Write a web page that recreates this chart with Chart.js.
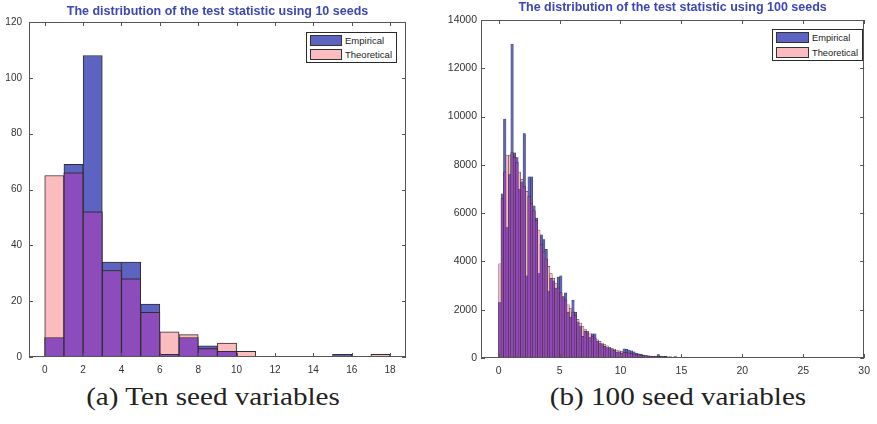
<!DOCTYPE html>
<html lang="en">
<head>
<meta charset="UTF-8">
<title>Test statistic distribution</title>
<script src="https://cdn.jsdelivr.net/npm/chart.js"></script>
<style>
    body { margin: 0; background: #fff; width: 877px; height: 424px; position: relative; overflow: hidden; }
    canvas { position: absolute; top: 0; }
    #graficoA { left: 0; }
    #graficoB { left: 430px; }
    .legenda { position: absolute; border: 1px solid #2a2a2a; background: #fff; font: 9.5px "Liberation Sans", Arial, sans-serif; color: #222; }
    .linha { position: absolute; left: 3px; height: 11px; display: flex; align-items: center; white-space: nowrap; }
    .linha:nth-child(1) { top: 2px; }
    .linha:nth-child(2) { top: 16px; }
    .cor { width: 30px; height: 9px; border: 1px solid #333; margin-right: 3px; }
    .cor.emp { background: #5c63c0; }
    .cor.teo { background: #fbbcc0; }
    .legenda-a { left: 306px; top: 32px; width: 89px; height: 29px; }
    .legenda-b { left: 772px; top: 29px; width: 89px; height: 30px; font-size: 9.3px; }
    .legenda-b .cor { width: 31px; margin-right: 3px; }
    .legenda-b .linha:nth-child(2) { top: 17px; }
    .caption { position: absolute; top: 382px; width: 300px; text-align: center; font: 26px "Liberation Serif", "Times New Roman", serif; color: #222; transform: scaleX(1.12); }
</style>
</head>
<body>

<canvas id="graficoA" width="420" height="380"></canvas>
<canvas id="graficoB" width="447" height="380"></canvas>

<div class="legenda legenda-a">
    <div class="linha"><div class="cor emp"></div><span>Empirical</span></div>
    <div class="linha"><div class="cor teo"></div><span>Theoretical</span></div>
</div>
<div class="legenda legenda-b">
    <div class="linha"><div class="cor emp"></div><span>Empirical</span></div>
    <div class="linha"><div class="cor teo"></div><span>Theoretical</span></div>
</div>

<div class="caption" style="left: 63px;">(a) Ten seed variables</div>
<div class="caption" style="left: 528px;">(b) 100 seed variables</div>

<script>
    // ---- 10 seeds: bins of width 1 ----
    var binsA = [0.5, 1.5, 2.5, 3.5, 4.5, 5.5, 6.5, 7.5, 8.5, 9.5, 10.5, 11.5, 12.5, 13.5, 14.5, 15.5, 16.5, 17.5];
    var empiricoA = [7, 69, 108, 34, 34, 19, 1, 7, 4, 2, 0, 0, 0, 0, 0, 1, 0, 0];
    var teoricoA = [65, 66, 52, 31, 28, 16, 9, 8, 3, 5, 2, 0, 0, 0, 0, 0, 0, 1];
    var xTicksA = [0, 2, 4, 6, 8, 10, 12, 14, 16, 18];
    var yTicksA = [0, 20, 40, 60, 80, 100, 120];

    // ---- 100 seeds: bins of width 0.2, starting at 0 ----
    var larguraB = 0.2;
    var empiricoB = [
        2300, 6800, 9900, 5400, 7600, 13000, 8500, 8300, 7000, 7300,
        9300, 3400, 7500, 7500, 6300, 5800, 3500, 5100, 4900, 4500,
        2750, 3300, 3200, 2900, 3350, 3400, 2500, 2700, 1900, 1700,
        2400, 1900, 1500, 1300, 900, 1100, 1050, 850, 1000, 1000,
        700, 620, 560, 480, 430, 420, 350, 320, 250, 260,
        200, 380, 360, 330, 300, 260, 200, 170, 150, 120,
        100, 90, 70, 60, 55, 140, 80, 60, 70, 50,
        45, 40, 60, 30, 25, 20, 40, 15, 10, 20
    ];
    var teoricoB = [
        3900, 6600, 7700, 8400, 8400, 8500, 8300, 8100, 7700, 7400,
        7100, 6900, 6700, 6400, 6100, 5700, 5300, 4700, 4400, 4100,
        3800, 3500, 3300, 3100, 2900, 2700, 2550, 2400, 2200, 2050,
        1900, 1750, 1600, 1450, 1300, 1200, 1100, 1000, 900, 820,
        750, 690, 620, 560, 500, 450, 400, 370, 330, 300,
        270, 240, 220, 200, 180, 160, 140, 130, 110, 100,
        90, 80, 75, 70, 65, 60, 55, 50, 45, 40,
        35, 30, 28, 25, 22, 20, 18, 15, 12, 10
    ];
    var binsB = empiricoB.map((_, i) => +(i * larguraB + larguraB / 2).toFixed(2));
    var xTicksB = [0, 5, 10, 15, 20, 25, 30];
    var yTicksB = [0, 2000, 4000, 6000, 8000, 10000, 12000, 14000];

    // matlab-like box with inward ticks
    var moldura = {
        id: 'moldura',
        afterDatasetsDraw(chart) {
            var ctx = chart.ctx, a = chart.chartArea, x = chart.scales.x, y = chart.scales.y;
            ctx.save();
            ctx.strokeStyle = '#555';
            ctx.lineWidth = 1;
            ctx.strokeRect(Math.round(a.left) + 0.5, Math.round(a.top) + 0.5,
                Math.round(a.right - a.left) - 1, Math.round(a.bottom - a.top) - 1);
            ctx.beginPath();
            x.ticks.forEach(t => {
                var px = Math.round(x.getPixelForValue(t.value)) + 0.5;
                ctx.moveTo(px, a.bottom); ctx.lineTo(px, a.bottom - 4);
                ctx.moveTo(px, a.top); ctx.lineTo(px, a.top + 4);
            });
            y.ticks.forEach(t => {
                var py = Math.round(y.getPixelForValue(t.value)) + 0.5;
                ctx.moveTo(a.left, py); ctx.lineTo(a.left + 4, py);
                ctx.moveTo(a.right, py); ctx.lineTo(a.right - 4, py);
            });
            ctx.stroke();
            ctx.restore();
        }
    };

    function montarGrafico(id, cfg) {
        var pares = (vals) => vals.map((v, i) => ({ x: cfg.bins[i], y: v }));
        var sobreposicao = cfg.emp.map((v, i) => Math.min(v, cfg.teo[i]));
        var fonte = { family: '"Liberation Sans", Arial, sans-serif', size: cfg.tamanho };
        var barra = {
            barPercentage: 1,
            categoryPercentage: 1,
            grouped: false,
            borderSkipped: false,
            borderWidth: cfg.borda,
            borderColor: '#2e2e2e'
        };

        new Chart(document.getElementById(id), {
            type: 'bar',
            data: {
                datasets: [
                    Object.assign({ label: 'Overlap', data: pares(sobreposicao), backgroundColor: cfg.roxo, order: 0 }, barra),
                    Object.assign({ label: 'Theoretical', data: pares(cfg.teo), backgroundColor: cfg.rosa, order: 1 }, barra),
                    Object.assign({ label: 'Empirical', data: pares(cfg.emp), backgroundColor: cfg.azul, order: 2 }, barra)
                ]
            },
            options: {
                responsive: false,
                animation: false,
                layout: { padding: { top: 0, right: cfg.direita, bottom: 0, left: 0 } },
                plugins: {
                    legend: { display: false },
                    tooltip: { enabled: false },
                    title: {
                        display: true,
                        text: cfg.titulo,
                        fullSize: false,
                        color: '#3c46b4',
                        font: { family: '"Liberation Sans", Arial, sans-serif', size: 12.5, weight: 'bold', lineHeight: 1.2 },
                        padding: cfg.tituloPad
                    }
                },
                scales: {
                    x: {
                        type: 'linear',
                        offset: false,
                        min: cfg.xmin,
                        max: cfg.xmax,
                        grid: { display: false, drawTicks: false },
                        border: { display: false },
                        afterBuildTicks: (s) => { s.ticks = cfg.xTicks.map(v => ({ value: v })); },
                        afterFit: (s) => { s.height = cfg.alturaX; },
                        ticks: { font: fonte, color: '#333', padding: 7, maxRotation: 0, callback: (v) => String(v) }
                    },
                    y: {
                        min: 0,
                        max: cfg.ymax,
                        grid: { display: false, drawTicks: false },
                        border: { display: false },
                        afterBuildTicks: (s) => { s.ticks = cfg.yTicks.map(v => ({ value: v })); },
                        afterFit: (s) => { s.width = cfg.larguraY; },
                        ticks: { font: fonte, color: '#333', padding: cfg.yPad, callback: (v) => String(v) }
                    }
                }
            },
            plugins: [moldura]
        });
    }

    montarGrafico('graficoA', {
        titulo: 'The distribution of the test statistic using 10 seeds',
        bins: binsA, emp: empiricoA, teo: teoricoA,
        xTicks: xTicksA, yTicks: yTicksA,
        xmin: -0.82, xmax: 18.83, ymax: 120,
        larguraY: 29, alturaX: 23, direita: 14, yPad: 7, tamanho: 10,
        tituloPad: { top: 4, bottom: 3 },
        borda: 1,
        azul: '#5c63c0', rosa: '#fbbcc0', roxo: '#8c4cbc'
    });

    montarGrafico('graficoB', {
        titulo: 'The distribution of the test statistic using 100 seeds',
        bins: binsB, emp: empiricoB, teo: teoricoB,
        xTicks: xTicksB, yTicks: yTicksB,
        xmin: -1.45, xmax: 30, ymax: 14000,
        larguraY: 51, alturaX: 22, direita: 6, yPad: 4, tamanho: 10.5,
        tituloPad: { top: 0.5, bottom: 4.5 },
        borda: 0.5,
        azul: '#5f66bc', rosa: '#f4bcc0', roxo: '#9548b8'
    });
</script>
</body>
</html>
